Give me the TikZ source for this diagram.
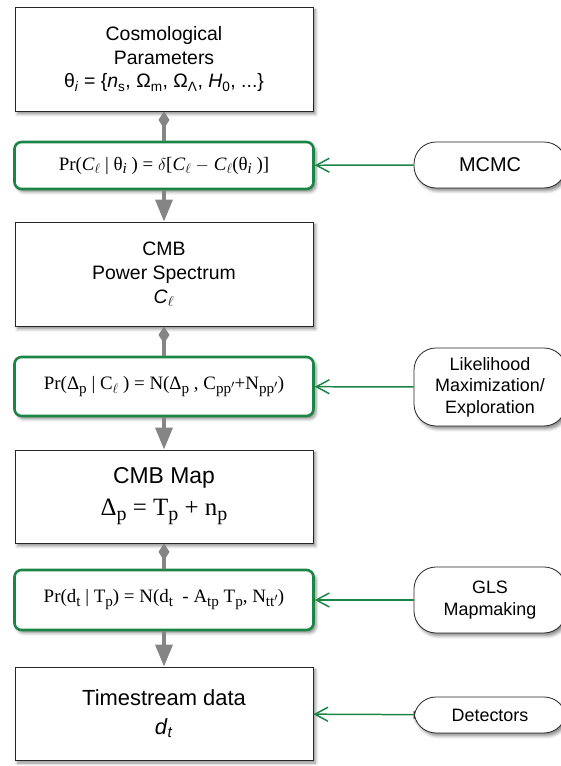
\documentclass[tikz,border=0pt]{standalone}
\usepackage{fontspec}
\setmainfont{Liberation Sans}
\newfontfamily\eqfont{Liberation Serif}
\usepackage{amsmath}
\usepackage{graphicx}
\usepackage{xcolor}
\definecolor{probGreen}{HTML}{1A8545}
\definecolor{linkGray}{HTML}{858585}
\usetikzlibrary{positioning,arrows.meta,shadows.blur}
% large, lowered subscript as in the equations of the flow chart
\newcommand{\dn}[1]{\raisebox{-0.45ex}{\scalebox{0.8}{#1}}}

\begin{document}
\begin{tikzpicture}[x=1bp, y=1bp,
    every node/.style={font=\fontsize{19.5}{24}\selectfont},
    soft/.style={blur shadow={shadow xshift=2.5bp, shadow yshift=-3bp,
                 shadow blur radius=3bp, shadow opacity=45}},
    stage/.style={draw=black!85, fill=white, line width=0.8pt, soft,
                  minimum width=298bp, align=center, inner sep=2pt},
    prob/.style={draw=probGreen, fill=white, line width=2.6pt, soft,
                 rounded corners=7bp, minimum width=299bp, align=center,
                 inner sep=2pt, font=\eqfont\fontsize{19}{22}\selectfont},
    method/.style={draw=black!85, fill=white, line width=0.8pt, soft,
                   rounded corners=22bp, minimum width=152bp, align=center,
                   inner sep=2pt, font=\fontsize{18}{21.5}\selectfont},
    feed/.style={draw=linkGray, line width=3.5pt,
                 -{Triangle[length=22bp, width=17bp]}},
    hold/.style={draw=linkGray, line width=3.5pt,
                 {Diamond[length=17bp, width=11bp]}-},
    drive/.style={draw=probGreen, line width=1.5pt,
                  -{Straight Barb[length=13bp, width=14bp]}}]
  \useasboundingbox (0,0) rectangle (561,766);
  % left column: models and likelihoods
  \node[stage, minimum height=104bp] (params) at (164, 707)
       {Cosmological\\Parameters\\
        θ\textsubscript{\textit{i}} = \{\textit{n}\textsubscript{s},
        Ω\textsubscript{m}, Ω\textsubscript{Λ}, \textit{H}\textsubscript{0}, ...\}};
  \node[prob, minimum height=47bp] (prob1) at (164, 600.5)
       {Pr(\textit{C}\dn{$\ell$} | θ\dn{\textit{i}} ) = $\delta$[\textit{C}\dn{$\ell$} $-$
        \textit{C}\dn{$\ell$}(θ\dn{\textit{i}} )]};
  \node[stage, minimum height=104bp] (cmbps) at (164, 492)
       {CMB\\Power Spectrum\\\textit{C}\textsubscript{$\ell$}};
  \node[prob, minimum height=59bp] (prob2) at (164, 379.5)
       {Pr(Δ\dn{p} | C\dn{$\ell$} ) = N(Δ\dn{p} ,
        C\dn{pp$'$}+N\dn{pp$'$})};
  \node[stage, minimum height=93bp, font=\fontsize{23}{29}\selectfont] (cmbmap) at (164, 269.5)
       {CMB Map\\[3pt]{\eqfont\fontsize{25}{29}\selectfont Δ\dn{p} = T\dn{p} + n\dn{p}}};
  \node[prob, minimum height=60bp] (prob3) at (164, 166)
       {Pr(d\dn{t} | T\dn{p}) = N(d\dn{t} \ - A\dn{tp}
        T\dn{p}, N\dn{tt$'$})};
  \node[stage, minimum height=93bp, font=\fontsize{22}{29}\selectfont] (tsdata) at (164, 52.5)
       {Timestream data\\\textit{d}\textsubscript{\textit{t}}};
  % right column: methods
  \node[method, minimum height=46bp, font=\fontsize{20}{24}\selectfont] (mcmc) at (490, 601) {MCMC};
  \node[method, minimum height=78bp] (lhood) at (490, 379) {Likelihood\\Maximization/\\Exploration};
  \node[method, minimum height=66bp] (gls) at (490, 166) {GLS\\Mapmaking};
  \node[method, minimum height=36bp] (det) at (490, 51) {Detectors};
  % connectors
  \draw[hold] (params) -- (prob1);
  \draw[feed] (prob1) -- (cmbps);
  \draw[hold] (cmbps) -- (prob2);
  \draw[feed] (prob2) -- (cmbmap);
  \draw[hold] (cmbmap) -- (prob3);
  \draw[feed] (prob3) -- (tsdata);
  \draw[drive] (mcmc) -- (prob1);
  \draw[drive] (lhood) -- (prob2);
  \draw[drive] (gls) -- (prob3);
  \draw[drive] (det) -- (tsdata);
\end{tikzpicture}
\end{document}
